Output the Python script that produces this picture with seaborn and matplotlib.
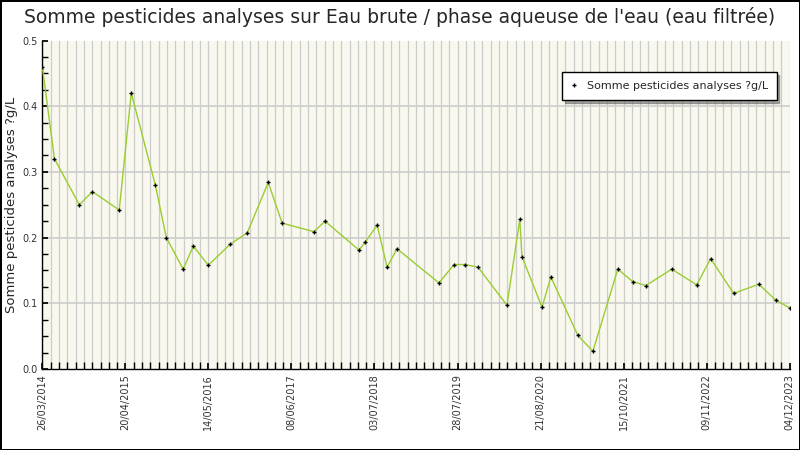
import matplotlib
matplotlib.use("Agg")
import matplotlib.pyplot as plt
import numpy as np
import pandas as pd
import seaborn as sns

START = "2014-03-26"
END = "2023-12-04"
# days since first sample
day_offsets = [0, 57, 175, 237, 364, 421, 535, 587, 667, 715, 786, 890, 970, 1070,
               1136, 1287, 1339, 1500, 1529, 1586, 1633, 1680, 1879, 1950, 2002,
               2064, 2201, 2262, 2272, 2367, 2409, 2537, 2608, 2726, 2797, 2859,
               2982, 3100, 3166, 3275, 3394, 3474, 3540]
values = [0.459, 0.32, 0.25, 0.27, 0.242, 0.42, 0.28, 0.2, 0.152, 0.187, 0.158,
          0.19, 0.207, 0.284, 0.222, 0.209, 0.225, 0.181, 0.193, 0.219, 0.155,
          0.183, 0.131, 0.159, 0.159, 0.155, 0.097, 0.228, 0.171, 0.094, 0.140,
          0.051, 0.027, 0.152, 0.133, 0.127, 0.152, 0.128, 0.168, 0.115, 0.129,
          0.105, 0.093]
tick_labels = ["26/03/2014", "20/04/2015", "14/05/2016", "08/06/2017", "03/07/2018",
               "28/07/2019", "21/08/2020", "15/10/2021", "09/11/2022", "04/12/2023"]

SERIES = "Somme pesticides analyses ?g/L"
start = pd.Timestamp(START)
df = pd.DataFrame({"day": day_offsets, "val": values})
total = (pd.Timestamp(END) - start).days

sns.set_theme(style="white")
fig = plt.figure(figsize=(8, 4.5), dpi=100)
fig.patch.set_edgecolor("black")
fig.patch.set_linewidth(2)
ax = fig.add_axes([0.053, 0.18, 0.934, 0.73])
ax.set_facecolor("#f8f8ee")

minor = np.linspace(0, total, 91)
for x in minor:
    ax.axvline(x, color="#cccccc", linewidth=0.9, zorder=0)
for y in np.arange(0.1, 0.5, 0.1):
    ax.axhline(y, color="#cccccc", linewidth=1.2, zorder=0)

sns.lineplot(data=df, x="day", y="val", ax=ax, color="#9acd32", linewidth=1,
             marker="+", markersize=3, markeredgecolor="black",
             markeredgewidth=1, label=SERIES, zorder=3)

ax.set_xlim(0, total)
ax.set_ylim(0, 0.5)
ax.set_xticks(minor[::10])
ax.set_xticklabels(tick_labels, rotation=90, fontsize=7, color="#333333")
ax.set_xticks(minor, minor=True)
ax.set_yticks(np.arange(0, 0.51, 0.1))
ax.set_yticklabels([f"{v:.1f}" for v in np.arange(0, 0.51, 0.1)], fontsize=7,
                   color="#333333")
ax.set_yticks(np.arange(0, 0.5, 0.025), minor=True)
ax.tick_params(axis="both", which="both", direction="in", length=4, color="black",
               bottom=True, left=True)
ax.tick_params(axis="x", which="minor", length=5)
ax.set_xlabel("")
ax.set_ylabel(SERIES, fontsize=9.5, labelpad=3)
for side in ["top", "right"]:
    ax.spines[side].set_visible(False)
for side in ["left", "bottom"]:
    ax.spines[side].set_color("black")
    ax.spines[side].set_linewidth(1)

leg = ax.legend(loc="upper right", bbox_to_anchor=(0.99, 0.92), fontsize=8,
                frameon=True, fancybox=False, shadow={"ox": 2, "oy": -2, "color": "#555555"},
                edgecolor="black", facecolor="white", framealpha=1,
                handlelength=0.6, borderpad=0.8)
leg.get_lines()[0].set_linestyle("none")

fig.suptitle("Somme pesticides analyses sur Eau brute / phase aqueuse de l'eau (eau filtrée)",
             fontsize=13.5, y=0.985)
fig.savefig("out.png", dpi=100)
